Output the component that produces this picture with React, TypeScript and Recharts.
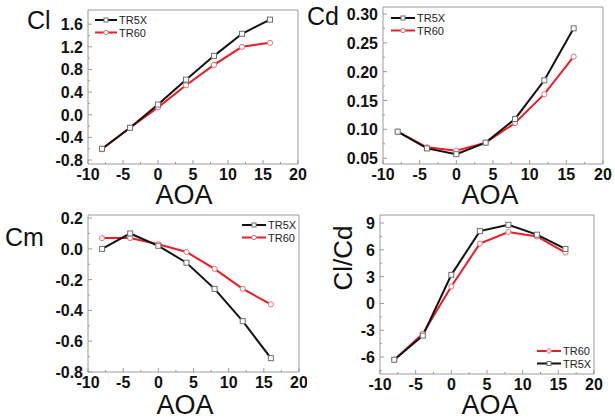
import React from 'react';
import { LineChart, Line, XAxis, YAxis, ReferenceArea, Legend } from 'recharts';

// ---- data ----
const AOA = [-8, -4, 0, 4, 8, 12, 16];

const CL_TR5X = [-0.6, -0.23, 0.18, 0.62, 1.04, 1.43, 1.68];
const CL_TR60 = [-0.61, -0.23, 0.13, 0.52, 0.88, 1.2, 1.27];

const CD_TR5X = [0.096, 0.067, 0.057, 0.077, 0.118, 0.185, 0.275];
const CD_TR60 = [0.096, 0.069, 0.063, 0.077, 0.111, 0.161, 0.226];

const CM_TR5X = [0.0, 0.1, 0.02, -0.09, -0.26, -0.47, -0.71];
const CM_TR60 = [0.07, 0.07, 0.03, -0.02, -0.13, -0.26, -0.36];

const CLCD_TR5X = [-6.3, -3.6, 3.2, 8.1, 8.8, 7.7, 6.1];
const CLCD_TR60 = [-6.3, -3.4, 1.9, 6.7, 8.0, 7.5, 5.7];

// tick labels
const X_TICKS = [-10, -5, 0, 5, 10, 15, 20];
const X_MINOR = [-7.5, -2.5, 2.5, 7.5, 12.5, 17.5];
const CL_TICKS = [-0.8, -0.4, 0, 0.4, 0.8, 1.2, 1.6];
const CL_MINOR = [-0.6, -0.2, 0.2, 0.6, 1.0, 1.4];
const CD_TICKS = [0.05, 0.1, 0.15, 0.2, 0.25, 0.3];
const CD_MINOR = [0.075, 0.125, 0.175, 0.225, 0.275];
const CM_TICKS = [-0.8, -0.6, -0.4, -0.2, 0, 0.2];
const CM_MINOR = [-0.7, -0.5, -0.3, -0.1, 0.1];
const CLCD_TICKS = [-6, -3, 0, 3, 6, 9];
const CLCD_MINOR = [-7.5, -4.5, -1.5, 1.5, 4.5, 7.5];

const BLACK = '#111111';
const RED = '#ee1c25';
const FRAME = '#9a9a9a';
const FONT = '"Liberation Sans", Arial, sans-serif';

const Y_AXIS_W = 60;
const X_AXIS_H = 30;

const rows = (a: number[], b: number[]) =>
  AOA.map((x, i) => ({ aoa: x, tr5x: a[i], tr60: b[i] }));

const SquareDot = (props: any) => {
  const { cx, cy } = props;
  if (cx == null || cy == null) return null;
  return <rect x={cx - 2.5} y={cy - 2.5} width={5} height={5} fill="#fff" stroke="#6f6f6f" strokeWidth={1} />;
};

const CircleDot = (props: any) => {
  const { cx, cy } = props;
  if (cx == null || cy == null) return null;
  return <circle cx={cx} cy={cy} r={2.6} fill="#fff" stroke="#e8707a" strokeWidth={1} />;
};

const tickText: React.CSSProperties = {
  fontSize: 16,
  fontWeight: 700,
  fontFamily: FONT,
  fill: '#111',
};

// inward ticks, minor ones shorter and unlabeled
const XTick = (props: any) => {
  const { x, y, payload, major } = props;
  const isMajor = major.includes(payload.value);
  return (
    <g>
      <line x1={x} x2={x} y1={y} y2={y - (isMajor ? 4 : 2)} stroke={FRAME} />
      {isMajor && (
        <text x={x} y={y + 16} textAnchor="middle" style={tickText}>
          {payload.value}
        </text>
      )}
    </g>
  );
};

const YTick = (props: any) => {
  const { x, y, payload, major, decimals } = props;
  const isMajor = major.some((m: number) => Math.abs(m - payload.value) < 1e-9);
  return (
    <g>
      <line x1={x} x2={x + (isMajor ? 4 : 2)} y1={y} y2={y} stroke={FRAME} />
      {isMajor && (
        <text x={x - 5} y={y + 6} textAnchor="end" style={tickText}>
          {payload.value.toFixed(decimals)}
        </text>
      )}
    </g>
  );
};

type LegendItem = { name: string; color: string; dot: 'square' | 'circle' };

const makeLegend = (items: LegendItem[], lineLen: number) => () => (
  <svg width={lineLen + 34} height={items.length * 12 + 2} style={{ display: 'block' }}>
    {items.map((it, i) => {
      const y = 6 + i * 12.5;
      return (
        <g key={it.name}>
          <line x1={0} x2={lineLen} y1={y} y2={y} stroke={it.color} strokeWidth={2} />
          {it.dot === 'square' ? (
            <rect x={lineLen / 2 - 2} y={y - 2} width={4} height={4} fill="#fff" stroke="#6f6f6f" />
          ) : (
            <circle cx={lineLen / 2} cy={y} r={2.2} fill="#fff" stroke="#e8707a" />
          )}
          <text x={lineLen + 2} y={y + 4} style={{ fontSize: 11, fontFamily: FONT, fill: '#222' }}>
            {it.name}
          </text>
        </g>
      );
    })}
  </svg>
);

const L_5X: LegendItem = { name: 'TR5X', color: BLACK, dot: 'square' };
const L_60: LegendItem = { name: 'TR60', color: RED, dot: 'circle' };

type PanelProps = {
  left: number;
  top: number;
  width: number;
  height: number;
  // plot-box insets inside the panel
  box: { top: number; right: number; bottom: number; left: number };
  data: any[];
  yDomain: [number, number];
  yTicks: number[];
  yMinor: number[];
  decimals: number;
  legendItems: LegendItem[];
  legendPos: { left: number; top: number };
  legendLine: number;
};

function Panel(p: PanelProps) {
  const margin = {
    top: p.box.top,
    right: p.box.right,
    left: p.box.left - Y_AXIS_W,
    bottom: p.box.bottom - X_AXIS_H,
  };
  return (
    <div style={{ position: 'absolute', left: p.left, top: p.top }}>
      <LineChart width={p.width} height={p.height} data={p.data} margin={margin}>
        <XAxis
          dataKey="aoa"
          type="number"
          domain={[-10, 20]}
          ticks={[...X_TICKS, ...X_MINOR]}
          interval={0}
          height={X_AXIS_H}
          tickSize={0}
          tickMargin={0}
          tickLine={false}
          axisLine={false}
          tick={<XTick major={X_TICKS} />}
        />
        <YAxis
          type="number"
          domain={p.yDomain}
          allowDataOverflow
          ticks={[...p.yTicks, ...p.yMinor]}
          interval={0}
          width={Y_AXIS_W}
          tickSize={0}
          tickMargin={0}
          tickLine={false}
          axisLine={false}
          tick={<YTick major={p.yTicks} decimals={p.decimals} />}
        />
        <ReferenceArea
          x1={-10}
          x2={20}
          y1={p.yDomain[0]}
          y2={p.yDomain[1]}
          fill="none"
          stroke={FRAME}
          strokeWidth={1}
        />
        <Legend
          layout="vertical"
          align="center"
          verticalAlign="middle"
          content={makeLegend(p.legendItems, p.legendLine)}
          wrapperStyle={{ position: 'absolute', left: p.legendPos.left, top: p.legendPos.top, width: 'auto' }}
        />
        <Line dataKey="tr60" stroke={RED} strokeWidth={2} dot={<CircleDot />} isAnimationActive={false} />
        <Line dataKey="tr5x" stroke={BLACK} strokeWidth={2} dot={<SquareDot />} isAnimationActive={false} />
      </LineChart>
    </div>
  );
}

const labelStyle: React.CSSProperties = {
  position: 'absolute',
  fontFamily: FONT,
  color: '#111',
  lineHeight: 1,
  whiteSpace: 'nowrap',
};

const aoaStyle: React.CSSProperties = {
  ...labelStyle,
  fontSize: 27,
  lineHeight: 0.75,
  transform: 'translate(-50%, -50%)',
};

export default function App() {
  return (
    <div style={{ position: 'absolute', left: 0, top: 0, width: 615, height: 419, background: '#fff', overflow: 'hidden' }}>
      <Panel
        left={0}
        top={0}
        width={307}
        height={205}
        box={{ top: 10, right: 9, bottom: 41, left: 88 }}
        data={rows(CL_TR5X, CL_TR60)}
        yDomain={[-0.87, 1.85]}
        yTicks={CL_TICKS}
        yMinor={CL_MINOR}
        decimals={1}
        legendItems={[L_5X, L_60]}
        legendPos={{ left: 95, top: 14 }}
        legendLine={22}
      />
      <Panel
        left={307}
        top={0}
        width={308}
        height={205}
        box={{ top: 7, right: 12, bottom: 41, left: 76 }}
        data={rows(CD_TR5X, CD_TR60)}
        yDomain={[0.04, 0.312]}
        yTicks={CD_TICKS}
        yMinor={CD_MINOR}
        decimals={2}
        legendItems={[L_5X, L_60]}
        legendPos={{ left: 84, top: 12 }}
        legendLine={24}
      />
      <Panel
        left={0}
        top={205}
        width={307}
        height={214}
        box={{ top: 10, right: 8, bottom: 47, left: 88 }}
        data={rows(CM_TR5X, CM_TR60)}
        yDomain={[-0.8, 0.22]}
        yTicks={CM_TICKS}
        yMinor={CM_MINOR}
        decimals={1}
        legendItems={[L_5X, L_60]}
        legendPos={{ left: 242, top: 14 }}
        legendLine={24}
      />
      <Panel
        left={307}
        top={205}
        width={308}
        height={214}
        box={{ top: 10, right: 21, bottom: 45, left: 73 }}
        data={rows(CLCD_TR5X, CLCD_TR60)}
        yDomain={[-7.9, 9.9]}
        yTicks={CLCD_TICKS}
        yMinor={CLCD_MINOR}
        decimals={0}
        legendItems={[L_60, L_5X]}
        legendPos={{ left: 230, top: 140 }}
        legendLine={24}
      />

      {/* axis titles */}
      <div style={{ ...labelStyle, left: 27, top: 8, fontSize: 25 }}>Cl</div>
      <div style={{ ...labelStyle, left: 307, top: 4, fontSize: 25 }}>Cd</div>
      <div style={{ ...labelStyle, left: 5, top: 225, fontSize: 25 }}>Cm</div>
      <div
        style={{
          ...labelStyle,
          left: 343,
          top: 258,
          fontSize: 26,
          transform: 'translate(-50%, -50%) rotate(-90deg)',
        }}
      >
        Cl/Cd
      </div>
      <div style={{ ...aoaStyle, left: 184, top: 195 }}>AOA</div>
      <div style={{ ...aoaStyle, left: 490, top: 195 }}>AOA</div>
      <div style={{ ...aoaStyle, left: 185, top: 405 }}>AOA</div>
      <div style={{ ...aoaStyle, left: 490, top: 405 }}>AOA</div>
    </div>
  );
}
